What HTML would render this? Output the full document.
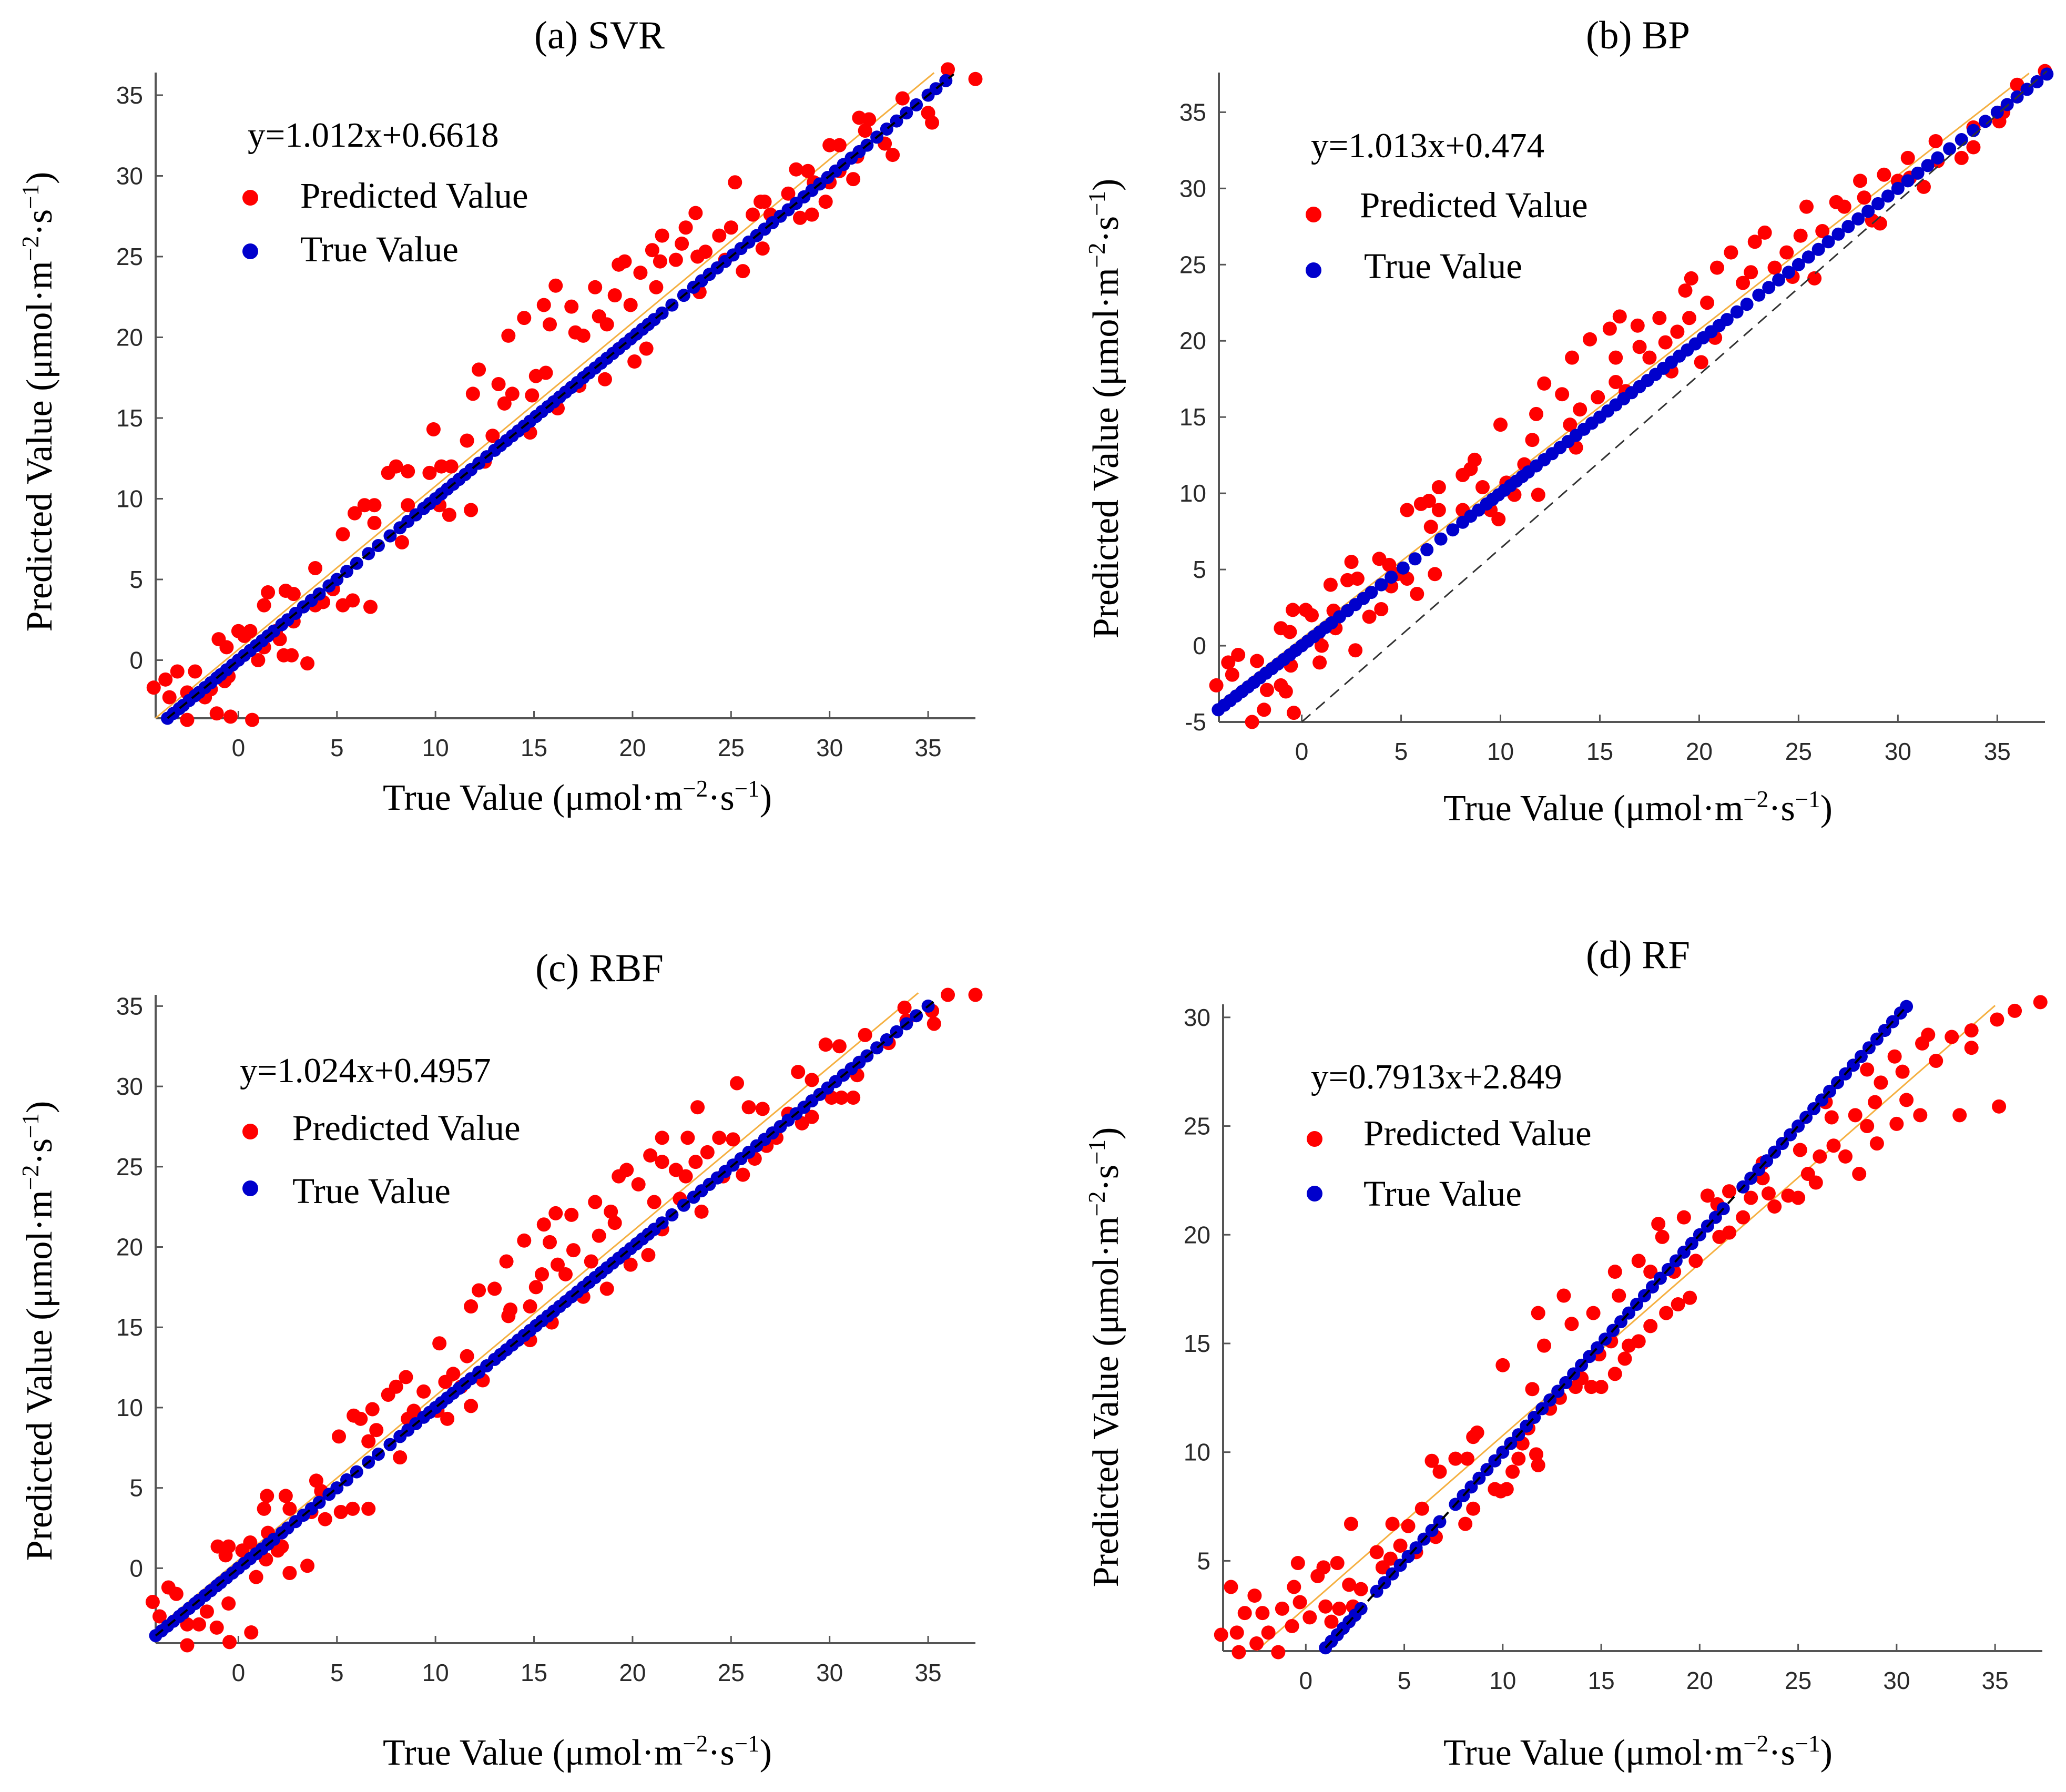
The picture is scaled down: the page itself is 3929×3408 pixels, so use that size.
<!DOCTYPE html>
<html><head><meta charset="utf-8"><style>
html,body{margin:0;padding:0;background:#fff;}
svg{display:block;}
.tl{font-family:"Liberation Sans",sans-serif;font-size:46px;fill:#2a2a2a;}
.sf{font-family:"Liberation Serif",serif;fill:#000;}
</style></head><body>
<svg id="fig" width="3929" height="3408" viewBox="0 0 3929 3408" xmlns="http://www.w3.org/2000/svg">
<g id="pa"></g>
<g id="pb"></g>
<g id="pc"></g>
<g id="pd"></g>

<text class="sf" x="1140" y="92" font-size="75" text-anchor="middle">(a) SVR</text>
<text class="sf" x="3115" y="92" font-size="75" text-anchor="middle">(b) BP</text>
<text class="sf" x="1140" y="1866" font-size="75" text-anchor="middle">(c) RBF</text>
<text class="sf" x="3115" y="1841" font-size="75" text-anchor="middle">(d) RF</text>

<text class="sf" x="471" y="279" font-size="67">y=1.012x+0.6618</text>
<text class="sf" x="2493" y="299" font-size="67">y=1.013x+0.474</text>
<text class="sf" x="456" y="2058" font-size="67">y=1.024x+0.4957</text>
<text class="sf" x="2493" y="2070" font-size="67">y=0.7913x+2.849</text>

<g>
<circle cx="476" cy="376" r="15" fill="#ff0000"/>
<text class="sf" x="571" y="395" font-size="69">Predicted Value</text>
<circle cx="476" cy="478" r="15" fill="#0000cc"/>
<text class="sf" x="571" y="497" font-size="69">True Value</text>
</g>
<g>
<circle cx="2498" cy="408" r="15" fill="#ff0000"/>
<text class="sf" x="2586" y="413" font-size="69">Predicted Value</text>
<circle cx="2498" cy="514" r="15" fill="#0000cc"/>
<text class="sf" x="2594" y="529" font-size="69">True Value</text>
</g>
<g>
<circle cx="476" cy="2152" r="15" fill="#ff0000"/>
<text class="sf" x="556" y="2168" font-size="69">Predicted Value</text>
<circle cx="476" cy="2260" r="15" fill="#0000cc"/>
<text class="sf" x="556" y="2288" font-size="69">True Value</text>
</g>
<g>
<circle cx="2500" cy="2166" r="15" fill="#ff0000"/>
<text class="sf" x="2593" y="2178" font-size="69">Predicted Value</text>
<circle cx="2500" cy="2270" r="15" fill="#0000cc"/>
<text class="sf" x="2593" y="2293" font-size="69">True Value</text>
</g>

<text class="sf" x="1098" y="1540" font-size="70" text-anchor="middle">True Value (μmol·m<tspan font-size="45" dy="-25">−2</tspan><tspan dy="25">·s</tspan><tspan font-size="45" dy="-25">−1</tspan><tspan dy="25">)</tspan></text>
<text class="sf" x="3115" y="1560" font-size="70" text-anchor="middle">True Value (μmol·m<tspan font-size="45" dy="-25">−2</tspan><tspan dy="25">·s</tspan><tspan font-size="45" dy="-25">−1</tspan><tspan dy="25">)</tspan></text>
<text class="sf" x="1098" y="3356" font-size="70" text-anchor="middle">True Value (μmol·m<tspan font-size="45" dy="-25">−2</tspan><tspan dy="25">·s</tspan><tspan font-size="45" dy="-25">−1</tspan><tspan dy="25">)</tspan></text>
<text class="sf" x="3115" y="3356" font-size="70" text-anchor="middle">True Value (μmol·m<tspan font-size="45" dy="-25">−2</tspan><tspan dy="25">·s</tspan><tspan font-size="45" dy="-25">−1</tspan><tspan dy="25">)</tspan></text>

<text class="sf" transform="translate(98,764) rotate(-90)" font-size="70" text-anchor="middle">Predicted Value (μmol·m<tspan font-size="45" dy="-25">−2</tspan><tspan dy="25">·s</tspan><tspan font-size="45" dy="-25">−1</tspan><tspan dy="25">)</tspan></text>
<text class="sf" transform="translate(2126,777) rotate(-90)" font-size="70" text-anchor="middle">Predicted Value (μmol·m<tspan font-size="45" dy="-25">−2</tspan><tspan dy="25">·s</tspan><tspan font-size="45" dy="-25">−1</tspan><tspan dy="25">)</tspan></text>
<text class="sf" transform="translate(98,2531) rotate(-90)" font-size="70" text-anchor="middle">Predicted Value (μmol·m<tspan font-size="45" dy="-25">−2</tspan><tspan dy="25">·s</tspan><tspan font-size="45" dy="-25">−1</tspan><tspan dy="25">)</tspan></text>
<text class="sf" transform="translate(2126,2581) rotate(-90)" font-size="70" text-anchor="middle">Predicted Value (μmol·m<tspan font-size="45" dy="-25">−2</tspan><tspan dy="25">·s</tspan><tspan font-size="45" dy="-25">−1</tspan><tspan dy="25">)</tspan></text>
</svg>
<script>
var xTicks=[0,5,10,15,20,25,30,35];
var yTicksA=[0,5,10,15,20,25,30,35];
var yTicksB=[-5,0,5,10,15,20,25,30,35];
var yTicksC=[0,5,10,15,20,25,30,35];
var yTicksD=[5,10,15,20,25,30];
var fitA=[1.012,0.6618], fitB=[1.013,0.474], fitC=[1.024,0.4957], fitD=[0.7913,2.849];
var fitRangeA=[-4.2,35.3], fitRangeB=[-4.17,36.6], fitRangeC=[-4.2,34.5], fitRangeD=[-2.5,35];
var refA=[[-3.6,-3.6],[36.3,36.3]];
var refB=[[0,-5],[37.5,37.7]];
var refC=[[-4.2,-4.2],[35.3,35.3]];
var refD=[[1,1],[30.5,30.5]];
var trueA=[-3.6,-3.3,-3.0,-2.8,-2.5,-2.2,-2.0,-1.7,-1.4,-1.1,-0.9,-0.6,-0.3,0,0.3,0.6,0.9,1.2,1.5,1.8,2.2,2.5,2.9,3.3,3.7,4.1,4.6,5.0,5.5,6.0,6.6,7.1,7.7,8.2,8.6,9.0,9.4,9.7,10.0,10.3,10.6,10.9,11.2,11.5,11.8,12.2,12.6,13.0,13.3,13.6,13.9,14.2,14.5,14.8,15.1,15.4,15.7,16.0,16.3,16.6,16.9,17.2,17.5,17.8,18.1,18.4,18.7,19.0,19.3,19.6,19.9,20.2,20.5,20.8,21.1,21.5,22.0,22.6,23.1,23.5,23.9,24.3,24.7,25.1,25.5,25.9,26.3,26.7,27.1,27.5,27.9,28.3,28.7,29.1,29.5,29.9,30.3,30.7,31.1,31.5,31.9,32.4,32.9,33.4,33.9,34.4,35.0,35.4,35.9];
var trueB=[-4.2,-3.9,-3.6,-3.3,-3.0,-2.7,-2.4,-2.1,-1.8,-1.5,-1.2,-0.9,-0.6,-0.3,0,0.3,0.6,0.9,1.2,1.5,1.9,2.3,2.7,3.1,3.5,4.0,4.5,5.1,5.7,6.3,7.0,7.6,8.1,8.5,8.9,9.3,9.6,9.9,10.2,10.5,10.8,11.1,11.4,11.8,12.2,12.6,13.0,13.4,13.8,14.2,14.6,15.0,15.4,15.8,16.2,16.6,17.0,17.4,17.8,18.2,18.6,19.0,19.4,19.8,20.2,20.6,21.0,21.4,21.9,22.4,23.0,23.5,24.0,24.5,25.0,25.5,26.0,26.5,27.0,27.5,28.0,28.5,29.0,29.5,30.0,30.5,31.0,31.5,32.0,32.6,33.2,33.8,34.4,35.0,35.5,36.0,36.5,37.0,37.5];
var trueC=[-4.2,-3.9,-3.6,-3.3,-3.0,-2.8,-2.5,-2.2,-2.0,-1.7,-1.4,-1.1,-0.9,-0.6,-0.3,0,0.3,0.6,0.9,1.2,1.5,1.8,2.2,2.5,2.9,3.3,3.7,4.1,4.6,5.0,5.5,6.0,6.6,7.1,7.7,8.2,8.6,9.0,9.4,9.7,10.0,10.3,10.6,10.9,11.2,11.5,11.8,12.2,12.6,13.0,13.3,13.6,13.9,14.2,14.5,14.8,15.1,15.4,15.7,16.0,16.3,16.6,16.9,17.2,17.5,17.8,18.1,18.4,18.7,19.0,19.3,19.6,19.9,20.2,20.5,20.8,21.1,21.5,22.0,22.6,23.1,23.5,23.9,24.3,24.7,25.1,25.5,25.9,26.3,26.7,27.1,27.5,27.9,28.3,28.7,29.1,29.5,29.9,30.3,30.7,31.1,31.5,31.9,32.4,32.9,33.4,33.9,34.4,35.0];
var trueD=[1.0,1.3,1.6,1.9,2.2,2.5,2.8,3.6,4.0,4.4,4.8,5.2,5.6,6.0,6.4,6.8,7.6,8.0,8.4,8.8,9.2,9.6,10.0,10.4,10.8,11.2,11.6,12.0,12.4,12.8,13.2,13.6,14.0,14.4,14.8,15.2,15.6,16.0,16.4,16.8,17.2,17.6,18.0,18.4,18.8,19.2,19.6,20.0,20.4,20.8,21.2,22.2,22.6,23.0,23.4,23.8,24.2,24.6,25.0,25.4,25.8,26.2,26.6,27.0,27.4,27.8,28.2,28.6,29.0,29.4,29.8,30.2,30.5];
var predA=[[-4.3,-1.7],[-3.7,-1.2],[-3.1,-0.7],[-3.5,-2.3],[-2.6,-3.7],[-2.2,-0.7],[-2.6,-2],[-1.7,-2.3],[-1.4,-1.8],[-1.1,-3.3],[-0.7,-1.3],[-0.5,-1],[-0.4,-3.5],[-1,1.3],[-0.6,0.8],[0,1.8],[0.3,1.5],[0.6,1.8],[0.7,-3.7],[1,0],[1.3,0.8],[1.5,4.2],[1.3,3.4],[1.9,1.8],[2.1,1.3],[2.3,0.3],[2.7,0.3],[2.4,4.3],[2.8,4.1],[2.8,2.4],[3.5,-0.2],[3.9,5.7],[3.9,3.4],[4.3,3.6],[4.8,4.4],[5.3,3.4],[5.3,7.8],[5.8,3.7],[5.9,9.1],[6.4,9.6],[6.7,3.3],[6.9,9.6],[6.9,8.5],[7.6,11.6],[8,12],[8.3,7.3],[8.6,11.7],[8.6,9.6],[9.7,11.6],[9.9,14.3],[10.3,12],[10.2,9.6],[10.7,9],[10.8,12],[11.6,13.6],[11.9,16.5],[11.8,9.3],[12.2,18],[12.5,12.3],[12.9,13.9],[13.2,17.1],[13.7,20.1],[13.5,15.9],[13.9,16.5],[14.5,21.2],[14.9,16.4],[15.1,17.6],[14.8,14.1],[15.5,22],[15.8,20.8],[16.1,23.2],[15.6,17.8],[16.2,15.6],[16.9,21.9],[17.1,20.3],[17.5,20.1],[17.3,17],[18.1,23.1],[18.3,21.3],[18.6,17.4],[18.7,20.8],[19.1,22.6],[19.3,24.5],[19.6,24.7],[19.9,22],[20.1,18.5],[20.4,24],[20.7,19.3],[21,25.4],[21.2,23.1],[21.5,26.3],[21.4,24.7],[22.2,24.8],[22.5,25.8],[22.7,26.8],[23.2,27.7],[23.3,25],[23.4,22.8],[23.7,25.3],[24.4,26.3],[24.7,24.8],[25,26.8],[25.2,29.6],[25.6,24.1],[26.1,27.6],[26.5,28.4],[26.6,25.5],[26.7,28.4],[27,27.6],[27.9,28.9],[28.3,30.4],[28.5,27.4],[28.9,30.3],[29.1,27.6],[29.2,29.6],[29.8,28.4],[30,31.9],[30.5,31.9],[30,29.6],[30.5,30.3],[31.2,29.8],[31.4,31.2],[31.5,33.6],[32,33.5],[31.8,32.8],[32.8,32],[33.2,31.3],[33.7,34.8],[35,33.9],[35.2,33.3],[36,36.6],[37.4,36]];
var predB=[[-4.3,-2.6],[-3.7,-1.1],[-3.2,-0.6],[-3.5,-1.9],[-2.25,-1],[-1.9,-4.2],[-2.5,-5],[-1.75,-2.9],[-1.05,-2.6],[-0.8,-3],[-0.4,-4.4],[-0.55,-1.3],[-1.05,1.15],[-0.6,0.9],[-0.45,2.35],[0.2,2.35],[0.5,2],[0.75,0.6],[0.9,-1.1],[1,0],[1.45,4],[1.6,2.3],[1.7,1.15],[2.3,4.3],[2.5,5.5],[2.7,-0.3],[2.8,4.4],[3.4,1.9],[4,2.4],[3.9,5.7],[4.4,5.3],[4.5,3.9],[4.8,4.7],[5.3,4.4],[5.8,3.4],[6.7,4.7],[5.3,8.9],[6.0,9.3],[6.4,9.5],[6.9,8.9],[6.5,7.8],[6.9,10.4],[8.1,8.9],[8.1,11.2],[8.5,11.6],[8.7,12.2],[9.1,10.4],[9.5,8.9],[9.9,8.3],[10,14.5],[10.3,10.7],[10.7,9.9],[11.2,11.9],[11.6,13.5],[11.8,15.2],[11.9,9.9],[12.2,17.2],[13.1,16.5],[13.5,14.5],[13.6,18.9],[13.8,13],[14,15.5],[14.5,20.1],[14.9,16.3],[15.5,20.8],[15.8,18.9],[16,21.6],[15.8,17.3],[16.3,16.7],[16.9,21],[17,19.6],[17.5,18.9],[18,21.5],[18.3,19.9],[18.6,18],[18.9,20.6],[19.3,23.3],[19.6,24.1],[19.5,21.5],[20.1,18.6],[20.4,22.5],[20.9,24.8],[20.8,20.2],[21.6,25.8],[22.2,23.8],[22.6,24.5],[22.8,26.5],[23.3,27.1],[23.8,24.8],[24.4,25.8],[24.7,24.2],[25.1,26.9],[25.4,28.8],[25.8,24.1],[26.2,27.2],[26.9,29.1],[27.3,28.8],[28.1,30.5],[28.3,29.4],[28.7,27.9],[29.1,27.7],[29.3,30.9],[30,30.5],[30.5,32],[30.6,30.7],[31.3,30.1],[31.9,33.1],[32,31.8],[33.2,32],[33.8,32.7],[33.8,34],[35.1,34.4],[35.3,35],[36,36.8],[37.4,37.7]];
var predC=[[-4.35,-2.1],[-3.55,-1.2],[-3.15,-1.6],[-4,-3],[-2.6,-3.5],[-2.6,-4.8],[-2,-3.5],[-1.6,-2.7],[-1.1,-3.7],[-0.5,-2.2],[-0.45,-4.6],[0.65,-4],[-1.05,1.35],[-0.5,1.35],[-0.65,0.8],[0.2,1.1],[0.6,1.6],[0.9,-0.55],[1.4,0.55],[1.45,4.5],[1.3,3.7],[1.5,2.2],[2,1.1],[2.2,1.35],[2.4,4.5],[2.6,3.7],[2.6,-0.3],[3.5,0.15],[3.7,3.5],[3.95,5.45],[4.2,4.8],[4.4,3.05],[5.2,3.5],[5.8,3.7],[6.6,3.7],[5.1,8.2],[5.85,9.5],[6.2,9.3],[6.6,7.9],[6.8,9.9],[7,8.6],[7.6,10.8],[8,11.3],[8.2,6.9],[8.5,11.9],[8.6,9.3],[8.9,9.8],[9.4,11],[10.2,14],[10.1,9.8],[10.5,11.6],[10.6,9.3],[10.9,12.1],[11.3,11.3],[11.6,13.2],[11.8,10.1],[11.8,16.3],[12.2,17.3],[12.4,11.7],[13,17.4],[13.6,19.1],[13.7,15.7],[13.8,16.1],[14.5,20.4],[14.8,16.3],[14.8,14.2],[15.1,17.5],[15.4,18.3],[15.5,21.4],[15.8,20.3],[16.1,22.1],[15.9,15.3],[16.2,18.9],[16.6,18.3],[16.9,22],[17,19.8],[17.5,16.9],[17.9,19.1],[18.1,22.8],[18.3,20.7],[18.7,17.4],[18.9,22.2],[19.1,21.5],[19.3,24.4],[19.7,24.8],[19.9,18.9],[20.3,23.9],[20.8,19.5],[20.9,25.7],[21.1,22.8],[21.5,25.3],[21.5,21.1],[21.5,26.8],[22.2,24.8],[22.4,23],[22.7,24.4],[22.8,26.8],[23.2,25.3],[23.3,28.7],[23.5,22.2],[23.8,25.9],[24.4,26.8],[24.6,24.4],[25.1,26.7],[25.3,30.2],[25.6,24.5],[25.9,28.7],[26.2,25.5],[26.6,28.6],[26.8,26.3],[27.3,26.8],[27.9,28.3],[28.4,30.9],[28.6,27.7],[29.1,30.4],[29.1,28.1],[29.8,32.6],[30.1,29.3],[30.5,32.5],[30.6,29.3],[31.2,29.3],[31.4,30.7],[31.8,33.2],[33,32.7],[33.8,34.9],[33.9,34.1],[35.2,34.7],[35.3,33.9],[36,35.7],[37.4,35.7]];
var predD=[[-4.3,1.6],[-3.8,3.8],[-3.5,1.7],[-3.4,0.8],[-3.1,2.6],[-2.6,3.4],[-2.5,1.2],[-2.2,2.6],[-1.9,1.7],[-1.4,0.8],[-1.2,2.8],[-0.7,2],[-0.4,4.9],[-0.6,3.8],[-0.3,3.1],[0.2,2.4],[0.6,4.3],[0.9,4.7],[1,2.9],[1.3,2.2],[1.6,4.9],[1.7,2.8],[2.2,3.9],[2.3,6.7],[2.4,2.9],[2.8,3.7],[3.6,5.4],[3.9,4.7],[4.4,6.7],[4.3,5.1],[4.8,5.7],[5.2,6.6],[5.6,5.4],[5.9,7.4],[6.4,9.6],[6.6,6.1],[6.8,9.1],[7.6,9.7],[8.1,6.7],[8.2,9.7],[8.5,7.4],[8.5,10.7],[8.7,10.9],[9.6,8.3],[9.9,8.2],[10,14],[10.2,8.3],[10.5,9.1],[10.8,9.7],[11,10.4],[11.3,11.1],[11.5,12.9],[11.7,9.9],[11.8,9.4],[11.8,16.4],[12.1,14.9],[12.4,12],[12.9,12.5],[13.1,17.2],[13.5,15.9],[13.7,13],[14,13.4],[14.5,13],[14.6,16.4],[14.9,14.5],[15,13],[15.5,15.1],[15.7,13.6],[15.7,18.3],[15.9,17.2],[16.2,14.3],[16.4,14.9],[16.9,15.1],[16.9,18.8],[17.5,18.3],[17.5,15.8],[17.9,20.5],[18.1,19.9],[18.3,16.4],[18.7,18.3],[18.9,16.8],[19.2,20.8],[19.5,17.1],[19.8,18.8],[20.4,21.8],[20.9,21.4],[21,19.9],[21.5,22],[21.5,20.1],[22.2,20.8],[22.6,21.7],[23.2,23.3],[23.2,22.6],[23.5,21.9],[23.8,21.3],[24.5,21.8],[25,21.7],[25.1,23.9],[25.5,22.8],[25.9,22.4],[26.1,23.6],[26.4,26.1],[26.7,25.4],[26.8,24.1],[27.4,23.6],[27.9,25.5],[28.1,22.8],[28.5,27.6],[28.5,25],[28.9,26.1],[29,24.2],[29.2,27],[29.9,28.2],[30,25.1],[30.3,27.5],[30.5,26.2],[31.2,25.5],[31.3,28.8],[31.6,29.2],[32,28],[32.8,29.1],[33.2,25.5],[33.8,29.4],[33.8,28.6],[35.1,29.9],[35.2,25.9],[36,30.3],[37.3,30.7]];

var NS="http://www.w3.org/2000/svg";
function mk(tag,attrs,parent){var e=document.createElementNS(NS,tag);for(var k in attrs)e.setAttribute(k,attrs[k]);parent.appendChild(e);return e;}

function panel(gid,box,xd,yd,yTicks,pred,truth,fit,fitRange,ref,refDashed){
  var g=document.getElementById(gid);
  var L=box[0],R=box[1],T=box[2],B=box[3];
  function sx(v){return L+(v-xd[0])/(xd[1]-xd[0])*(R-L);}
  function sy(v){return B-(v-yd[0])/(yd[1]-yd[0])*(B-T);}
  var ax=mk('line',{x1:L,y1:B,x2:R,y2:B,stroke:'#555',"stroke-width":4},g);
  
  
  var ay=mk('line',{x1:L,y1:T,x2:L,y2:B,stroke:'#555',"stroke-width":4},g);
  
  
  xTicks.forEach(function(v){
    var x=sx(v);
    var t=mk('line',{x1:x,y1:B,x2:x,y2:B-14,stroke:'#555',"stroke-width":3},g);
    
    
    var lb=mk('text',{x:x,y:B+72,"text-anchor":"middle","class":"tl"},g);
    lb.textContent=String(v);
    
    
  });
  yTicks.forEach(function(v){
    var y=sy(v);
    var t=mk('line',{x1:L,y1:y,x2:L+14,y2:y,stroke:'#555',"stroke-width":3},g);
    
    
    var lb=mk('text',{x:L-24,y:y+16,"text-anchor":"end","class":"tl"},g);
    lb.textContent=String(v);
    
    
  });
  var clip=mk('g',{},g);
  
  
  var fl=mk('line',{x1:sx(fitRange[0]),y1:sy(fit[0]*fitRange[0]+fit[1]),x2:sx(fitRange[1]),y2:sy(fit[0]*fitRange[1]+fit[1]),stroke:'#f5b041',"stroke-width":3},clip);
  
  
  pred.forEach(function(p){
    var c=mk('circle',{cx:sx(p[0]),cy:sy(p[1]),r:13.5,fill:'#ff0000'},clip);
    
    
  });
  truth.forEach(function(v){
    var c=mk('circle',{cx:sx(v),cy:sy(v),r:12.5,fill:'#0000cc'},clip);
    
    
  });
  var rl=mk('line',{x1:sx(ref[0][0]),y1:sy(ref[0][1]),x2:sx(ref[1][0]),y2:sy(ref[1][1]),stroke:refDashed?'#333':'#000',"stroke-width":refDashed?3:4,"stroke-dasharray":refDashed?"22,14":"18,12"},clip);
  
  
}
panel('pa',[296,1855,138,1366],[-4.2,37.4],[-3.6,36.4],yTicksA,predA,trueA,fitA,fitRangeA,refA,false);
panel('pb',[2318,3889,138,1373],[-4.17,37.4],[-5,37.6],yTicksB,predB,trueB,fitB,fitRangeB,refB,true);
panel('pc',[296,1855,1892,3125],[-4.2,37.4],[-4.67,35.7],yTicksC,predC,trueC,fitC,fitRangeC,refC,false);
panel('pd',[2326,3884,1910,3140],[-4.2,37.4],[0.85,30.6],yTicksD,predD,trueD,fitD,fitRangeD,refD,false);
</script>
</body></html>
